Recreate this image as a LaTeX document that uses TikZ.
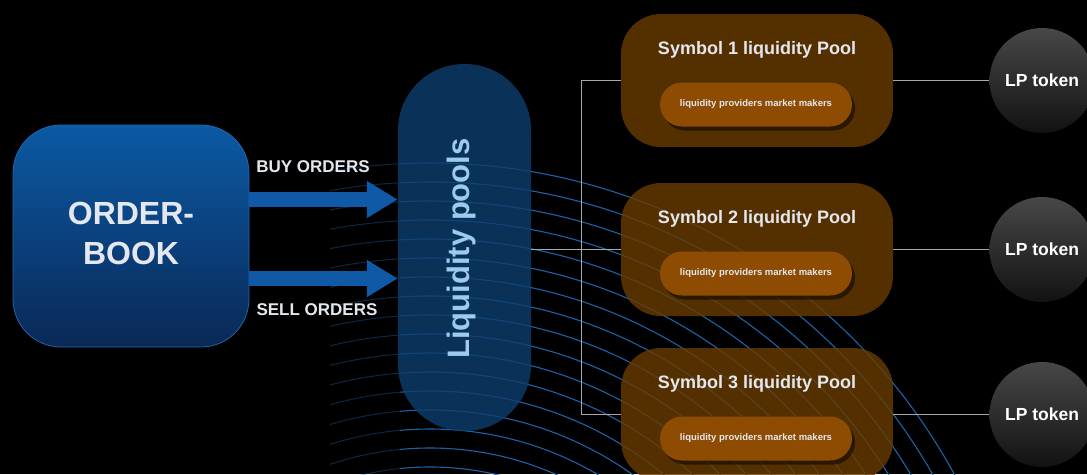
\documentclass[tikz,border=0pt]{standalone}
\usepackage{fontspec}
\setmainfont{Liberation Sans}
\usetikzlibrary{arrows.meta,shadows}

\definecolor{booktop}{HTML}{0B5AA4}
\definecolor{bookbot}{HTML}{0A2856}
\definecolor{bookline}{HTML}{2464A8}
\definecolor{flow}{HTML}{0F59A6}
\definecolor{poolblue}{HTML}{0D3E6E}
\definecolor{pooltext}{HTML}{9CCBF0}
\definecolor{wave}{HTML}{2074C4}
\definecolor{brown}{HTML}{6A3B00}
\definecolor{amber}{HTML}{8E4C02}
\definecolor{wire}{HTML}{A8A8A8}
\definecolor{soft}{HTML}{E4E8EE}

\begin{document}
\begin{tikzpicture}[x=1pt, y=-1pt,
    book/.style={draw=bookline, line width=0.8pt, rounded corners=48pt,
        top color=booktop, bottom color=bookbot,
        minimum width=236pt, minimum height=222pt},
    order/.style={line width=15pt, flow, -{Triangle[length=31pt,width=35pt]}},
    caption/.style={text=soft, font=\bfseries\fontsize{17}{20}\selectfont},
    pool/.style={fill=poolblue, fill opacity=0.8, rounded corners=66pt,
        minimum width=133pt, minimum height=367pt},
    poolbox/.style={fill=brown, fill opacity=0.8, rounded corners=40pt,
        minimum width=272pt, minimum height=133pt},
    maker/.style={fill=amber, rounded corners=22pt, minimum width=192pt,
        minimum height=44pt, text=soft,
        font=\bfseries\fontsize{9.5}{11}\selectfont,
        drop shadow={shadow xshift=3pt, shadow yshift=-4pt, opacity=0.5, fill=black}},
    token/.style={circle, minimum size=105pt, top color=black!72,
        bottom color=black!93, text=white,
        font=\bfseries\fontsize{17.5}{20}\selectfont},
    link/.style={draw=wire, line width=0.9pt}]

    \useasboundingbox (0,0) rectangle (1087,474);
    \fill[black] (0,0) rectangle (1087,474);

    % background waves
    \begin{scope}
        \clip (330,140) rectangle (400,474);
        \foreach \r in {293,312,...,600}
            \draw[wave, opacity=0.35, line width=1pt] (430,760) circle [radius=\r pt];
    \end{scope}
    \begin{scope}
        \clip (400,140) rectangle (1087,474);
        \foreach \r in {293,312,...,600}
            \draw[wave, opacity=0.85, line width=1.1pt] (430,760) circle [radius=\r pt];
    \end{scope}

    \node[book] at (131,236) (ob) {};
    \node[text=soft, align=center, font=\bfseries\fontsize{32}{40}\selectfont]
        at (131,233) (obtext) {ORDER-\\BOOK};

    \node[pool] at (464.5,247.5) (lp) {};
    \node[rotate=90, anchor=base, text=pooltext,
        font=\bfseries\fontsize{31}{36}\selectfont] at (469,248.5) (lptext) {Liquidity pools};

    \draw[order] (ob.east |- 0,199.5) -- (lp.west |- 0,199.5);
    \draw[order] (ob.east |- 0,278.5) -- (lp.west |- 0,278.5);
    \node[caption] at (313,167) (buy) {BUY ORDERS};
    \node[caption] at (317,310) (sell) {SELL ORDERS};

    \foreach \i/\y in {1/80.5, 2/249.5, 3/414.5} {
        \node[poolbox] at (757,\y) (s\i) {};
        \node[anchor=base, text=soft, font=\bfseries\fontsize{18}{21}\selectfont]
            at (757,\y-26) (t\i) {Symbol \i\ liquidity Pool};
        \node[maker] at (756,\y+24) (m\i) {liquidity providers market makers};
        \node[token] at (1042,\y) (c\i) {LP token};
        \draw[link] (s\i.east) -- (c\i.west);
    }

    \coordinate (bus) at (581,249.5);
    \draw[link] (lp.east |- bus) -- (bus) -- (s2.west);
    \draw[link] (s1.west) -- (s1.west -| bus) -- (s3.west -| bus) -- (s3.west);
\end{tikzpicture}
\end{document}
